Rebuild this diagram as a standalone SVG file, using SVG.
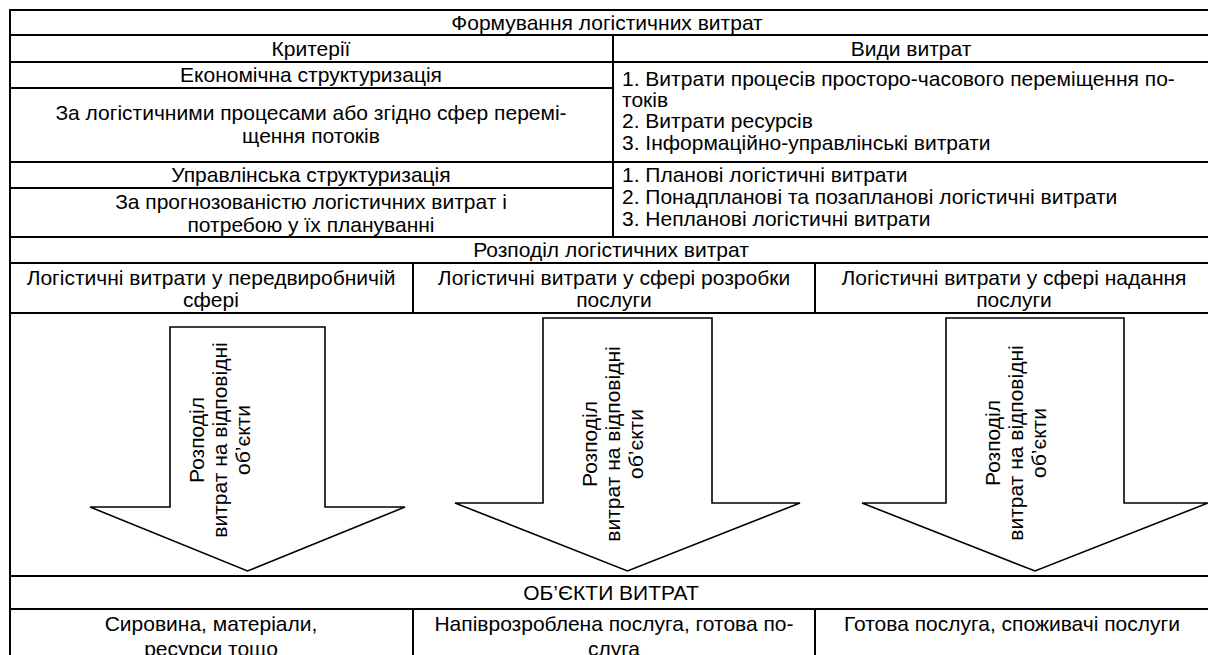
<svg xmlns="http://www.w3.org/2000/svg" width="1208" height="655" viewBox="0 0 1208 655">
<style>
text{font-family:"Liberation Sans",Arial,sans-serif;font-size:21px;fill:#000}
.c{text-anchor:middle}
.ln{stroke:#000;stroke-width:2;fill:none}
.arr{fill:#fff;stroke:#000;stroke-width:1.6;stroke-linejoin:miter}
</style>
<rect x="0" y="0" width="1208" height="655" fill="#fff"/>
<g id="grid" class="ln">
<rect x="10" y="10" width="1202" height="660"/>
<line x1="10" y1="35" x2="1212" y2="35"/>
<line x1="10" y1="62" x2="1212" y2="62"/>
<line x1="10" y1="88" x2="613" y2="88"/>
<line x1="10" y1="162" x2="1212" y2="162"/>
<line x1="10" y1="188" x2="613" y2="188"/>
<line x1="10" y1="237" x2="1212" y2="237"/>
<line x1="10" y1="263" x2="1212" y2="263"/>
<line x1="10" y1="313" x2="1212" y2="313"/>
<line x1="10" y1="576" x2="1212" y2="576"/>
<line x1="10" y1="609" x2="1212" y2="609"/>
<line x1="613" y1="35" x2="613" y2="237"/>
<line x1="413" y1="263" x2="413" y2="313"/>
<line x1="815" y1="263" x2="815" y2="313"/>
<line x1="413" y1="609" x2="413" y2="670"/>
<line x1="815" y1="609" x2="815" y2="670"/>
</g>
<g id="title"><text class="c" x="607" y="30">Формування логістичних витрат</text></g>
<g id="criteria"><text class="c" x="311" y="56">Критерії</text></g>
<g id="types"><text class="c" x="911" y="56">Види витрат</text></g>
<g id="econ"><text class="c" x="311" y="82">Економічна структуризація</text></g>
<g id="econ-desc"><text class="c" x="311"><tspan x="311" y="120">За логістичними процесами або згідно сфер перемі-</tspan><tspan x="311" y="143">щення потоків</tspan></text></g>
<g id="econ-types"><text x="622"><tspan x="622" y="86">1. Витрати процесів просторо-часового переміщення по-</tspan><tspan x="622" y="107">токів</tspan><tspan x="622" y="128">2. Витрати ресурсів</tspan><tspan x="622" y="150">3. Інформаційно-управлінські витрати</tspan></text></g>
<g id="mgmt"><text class="c" x="311" y="182">Управлінська структуризація</text></g>
<g id="mgmt-desc"><text class="c" x="311"><tspan x="311" y="209">За прогнозованістю логістичних витрат і</tspan><tspan x="311" y="232">потребою у їх плануванні</tspan></text></g>
<g id="mgmt-types"><text x="622"><tspan x="622" y="182">1. Планові логістичні витрати</tspan><tspan x="622" y="204">2. Понадпланові та позапланові логістичні витрати</tspan><tspan x="622" y="226">3. Непланові логістичні витрати</tspan></text></g>
<g id="distribution"><text class="c" x="611" y="257">Розподіл логістичних витрат</text></g>
<g id="pre"><text class="c" x="211"><tspan x="211" y="285">Логістичні витрати у передвиробничій</tspan><tspan x="211" y="307">сфері</tspan></text></g>
<g id="dev"><text class="c" x="614"><tspan x="614" y="285">Логістичні витрати у сфері розробки</tspan><tspan x="614" y="307">послуги</tspan></text></g>
<g id="serv"><text class="c" x="1014"><tspan x="1014" y="285">Логістичні витрати у сфері надання</tspan><tspan x="1014" y="307">послуги</tspan></text></g>
<g id="connectors">
<g id="arrow1">
<polygon class="arr" points="170,327 325,327 325,507 405,507 247.5,571 90,507 170,507"/>
<text class="c" transform="translate(220,440) rotate(-90)"><tspan x="0" y="-16">Розподіл</tspan><tspan x="0" y="7">витрат на відповідні</tspan><tspan x="0" y="30">об’єкти</tspan></text>
</g>
<g id="arrow2">
<polygon class="arr" points="543,318 712,318 712,503 800,503 627.5,571 455,503 543,503"/>
<text class="c" transform="translate(613,444) rotate(-90)"><tspan x="0" y="-16">Розподіл</tspan><tspan x="0" y="7">витрат на відповідні</tspan><tspan x="0" y="30">об’єкти</tspan></text>
</g>
<g id="arrow3">
<polygon class="arr" points="946,318 1124,318 1124,503 1208,503 1035,571 862,503 946,503"/>
<text class="c" transform="translate(1016,443) rotate(-90)"><tspan x="0" y="-16">Розподіл</tspan><tspan x="0" y="7">витрат на відповідні</tspan><tspan x="0" y="30">об’єкти</tspan></text>
</g>
</g>
<g id="objects"><text class="c" x="611" y="600">ОБ’ЄКТИ ВИТРАТ</text></g>
<g id="obj1"><text class="c" x="211"><tspan x="211" y="631">Сировина, матеріали,</tspan><tspan x="211" y="656">ресурси тощо</tspan></text></g>
<g id="obj2"><text class="c" x="614"><tspan x="614" y="631">Напіврозроблена послуга, готова по-</tspan><tspan x="614" y="656">слуга</tspan></text></g>
<g id="obj3"><text class="c" x="1012" y="631">Готова послуга, споживачі послуги</text></g>
</svg>
